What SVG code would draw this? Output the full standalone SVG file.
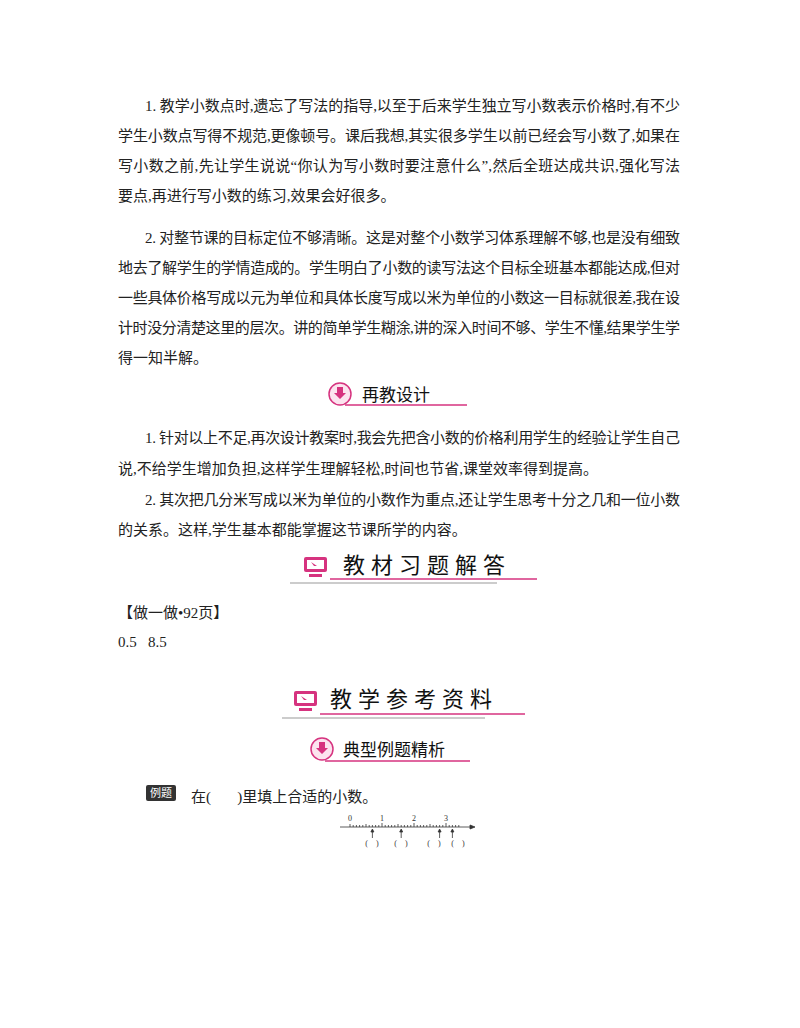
<svg xmlns="http://www.w3.org/2000/svg" width="800" height="1028" viewBox="0 0 800 1028">
<style>
.t{font-family:"Liberation Serif","Noto Sans CJK SC",serif;font-size:15px;fill:#222}
.h{font-family:"Noto Sans CJK SC",sans-serif;font-size:17px;fill:#111}
.h2{font-family:"Noto Sans CJK SC",sans-serif;font-size:22px;fill:#111}
.n{font-family:"Liberation Serif",serif;font-size:8px;fill:#333}
.pl{stroke:#d6337f;stroke-width:1.5;fill:none}
</style>
<rect width="800" height="1028" fill="#fff"/>
<g id="p1">
<text class="t" x="145" y="111" textLength="535">1. 教学小数点时,遗忘了写法的指导,以至于后来学生独立写小数表示价格时,有不少</text>
<text class="t" x="118" y="141" textLength="562">学生小数点写得不规范,更像顿号。课后我想,其实很多学生以前已经会写小数了,如果在</text>
<text class="t" x="118" y="171" textLength="562">写小数之前,先让学生说说“你认为写小数时要注意什么”,然后全班达成共识,强化写法</text>
<text class="t" x="118" y="201">要点,再进行写小数的练习,效果会好很多。</text>
<text class="t" x="145" y="243" textLength="535">2. 对整节课的目标定位不够清晰。这是对整个小数学习体系理解不够,也是没有细致</text>
<text class="t" x="118" y="273" textLength="562">地去了解学生的学情造成的。学生明白了小数的读写法这个目标全班基本都能达成,但对</text>
<text class="t" x="118" y="303" textLength="562">一些具体价格写成以元为单位和具体长度写成以米为单位的小数这一目标就很差,我在设</text>
<text class="t" x="118" y="333" textLength="562">计时没分清楚这里的层次。讲的简单学生糊涂,讲的深入时间不够、学生不懂,结果学生学</text>
<text class="t" x="118" y="363">得一知半解。</text>
</g>
<g id="h1">
<circle cx="340" cy="394" r="11" fill="#fce4ef" stroke="#d6337f" stroke-width="1.5"/>
<path d="M337 387h6v6h3l-6 6-6-6h3z" fill="#d6337f"/>
<text class="h" x="362" y="401">再教设计</text>
<path class="pl" d="M345 405H467"/>
</g>
<g id="p2">
<text class="t" x="145" y="443" textLength="535">1. 针对以上不足,再次设计教案时,我会先把含小数的价格利用学生的经验让学生自己</text>
<text class="t" x="118" y="474">说,不给学生增加负担,这样学生理解轻松,时间也节省,课堂效率得到提高。</text>
<text class="t" x="145" y="505" textLength="535">2. 其次把几分米写成以米为单位的小数作为重点,还让学生思考十分之几和一位小数</text>
<text class="t" x="118" y="535">的关系。这样,学生基本都能掌握这节课所学的内容。</text>
</g>
<g id="h2">
<rect x="304" y="557" width="23" height="15" rx="2" fill="#d6337f"/>
<rect x="307" y="560" width="17" height="9" fill="#fff"/>
<path d="M311 562l6 4-3 0z" fill="#d6337f"/>
<rect x="309" y="574" width="13" height="3" fill="#d6337f"/>
<text class="h2" x="343" y="573" letter-spacing="6">教材习题解答</text>
<path class="pl" d="M330 579H537"/>
<path d="M290 583H497" stroke="#bbb" stroke-width="1.5"/>
</g>
<g id="p3">
<text class="t" x="118" y="618">【做一做•92页】</text>
<text class="t" x="118" y="647">0.5&#160;&#160;&#160;8.5</text>
</g>
<g id="h3">
<rect x="294" y="691" width="23" height="15" rx="2" fill="#d6337f"/>
<rect x="297" y="694" width="17" height="9" fill="#fff"/>
<path d="M301 696l6 4-3 0z" fill="#d6337f"/>
<rect x="299" y="708" width="13" height="3" fill="#d6337f"/>
<text class="h2" x="330" y="707" letter-spacing="6">教学参考资料</text>
<path class="pl" d="M320 714H525"/>
<path d="M282 718H485" stroke="#bbb" stroke-width="1.5"/>
</g>
<g id="h4">
<circle cx="322" cy="749" r="11" fill="#fce4ef" stroke="#d6337f" stroke-width="1.5"/>
<path d="M319 742h6v6h3l-6 6-6-6h3z" fill="#d6337f"/>
<text class="h" x="343" y="756">典型例题精析</text>
<path class="pl" d="M325 761H470"/>
</g>
<g id="ex">
<rect x="146" y="785" width="30" height="16" rx="2" fill="#333"/>
<text x="161" y="797" text-anchor="middle" font-family="Noto Sans CJK SC,sans-serif" font-size="11" fill="#fff">例题</text>
<text class="t" x="191" y="802">在(&#160;&#160;&#160;&#160;&#160;&#160;&#160;)里填上合适的小数。</text>
</g>
<g id="numberline" stroke="#333" stroke-width="0.8">
<path d="M340 827H470"/>
<path d="M470 825l5 2-5 2z" fill="#333"/>
<path d="M350 824v3M353.2 825v2M356.4 825v2M359.6 825v2M362.8 825v2M366 824v3M369.2 825v2M372.4 825v2M375.6 825v2M378.8 825v2M382 823v4M385.2 825v2M388.4 825v2M391.6 825v2M394.8 825v2M398 824v3M401.2 825v2M404.4 825v2M407.6 825v2M410.8 825v2M414 823v4M417.2 825v2M420.4 825v2M423.6 825v2M426.8 825v2M430 824v3M433.2 825v2M436.4 825v2M439.6 825v2M442.8 825v2M446 823v4M449.2 825v2M452.4 825v2M455.6 825v2M458.8 825v2"/>
<path d="M372.4 838v-8M401.2 838v-8M439.6 838v-8M452.4 838v-8"/>
<path d="M370.9 832l1.5-3 1.5 3zM399.7 832l1.5-3 1.5 3zM438.1 832l1.5-3 1.5 3zM450.9 832l1.5-3 1.5 3z" fill="#333"/>
</g>
<g id="nl-labels">
<text class="n" x="350" y="821" text-anchor="middle">0</text>
<text class="n" x="382" y="821" text-anchor="middle">1</text>
<text class="n" x="414" y="821" text-anchor="middle">2</text>
<text class="n" x="446" y="821" text-anchor="middle">3</text>
<text class="n" x="372" y="846" text-anchor="middle">(&#160;&#160;&#160;&#160;)</text>
<text class="n" x="401" y="846" text-anchor="middle">(&#160;&#160;&#160;&#160;)</text>
<text class="n" x="434" y="846" text-anchor="middle">(&#160;&#160;&#160;&#160;)</text>
<text class="n" x="458" y="846" text-anchor="middle">(&#160;&#160;&#160;&#160;)</text>
</g>
</svg>
